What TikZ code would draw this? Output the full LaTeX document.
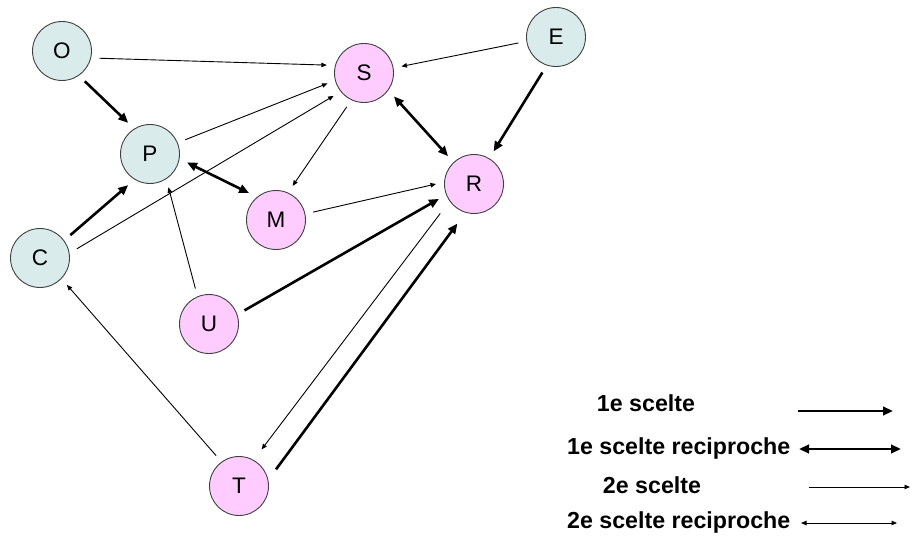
\documentclass[tikz,border=0pt]{standalone}
\usepackage{fontspec}
\setmainfont{Liberation Sans}
\usetikzlibrary{arrows.meta}
\definecolor{nblue}{RGB}{218,235,235}
\definecolor{npink}{RGB}{255,204,255}
\tikzset{
  pers/.style={circle,draw=black!75,line width=0.9pt,minimum size=59pt,inner sep=0pt,outer sep=8.5pt,font=\fontsize{22.5}{26}\selectfont},
  bl/.style={pers,fill=nblue},
  pk/.style={pers,fill=npink},
  first/.style={line width=2.6pt,-{Triangle[length=10pt,width=8.5pt]}},
  firstr/.style={line width=2.6pt,{Triangle[length=10pt,width=8.5pt]}-{Triangle[length=10pt,width=8.5pt]}},
  second/.style={line width=0.9pt,-{Triangle[length=5.5pt,width=4.5pt]}},
  secondr/.style={line width=0.9pt,{Triangle[length=5.5pt,width=4.5pt]}-{Triangle[length=5.5pt,width=4.5pt]}},
  leg/.style={font=\fontsize{23.2}{27}\selectfont\bfseries,inner sep=0pt}
}
\begin{document}
\begin{tikzpicture}[x=1pt,y=-1pt]
\useasboundingbox (0,0) rectangle (910,540);
\node[bl] (O) at (62,51) {O};
\node[bl] (P) at (150,154) {P};
\node[bl] (C) at (40,258) {C};
\node[pk] (M) at (276,220) {M};
\node[pk] (S) at (364,73) {S};
\node[bl] (E) at (556,37) {E};
\node[pk] (R) at (474,184) {R};
\node[pk] (U) at (209,324) {U};
\node[pk] (T) at (239,486) {T};

\draw[second] (O.-11) -- (S.168);
\draw[first] (O.-53) -- (P.125);
\draw[second] (P.22) -- (S.196);
\draw[second] (C.14) -- (S.217);
\draw[first] (C.37) -- (P.235);
\draw[firstr] (P.-13) -- (M.135);
\draw[second] (U.111) -- (P.-61);
\draw[second] (S.243) -- (M.64);
\draw[second] (M.12) -- (R.180);
\draw[first] (U.21) -- (R.203);
\draw[second] (E.189) -- (S.10);
\draw[first] (E.249) -- (R.59);
\draw[firstr] (S.-38) -- (R.133);
\draw[second] (T.127) -- (C.-45);
\draw[second,shorten <=7pt,shorten >=5pt] (R.219) -- (T.59);
\draw[first,shorten <=3pt,shorten >=5pt] (T.22) -- (R.249);

\node[leg] (l1) at (646,403) {1e scelte};
\node[leg,anchor=west] (l2) at (567,448) {1e scelte reciproche};
\node[leg] (l3) at (652,485) {2e scelte};
\node[leg,anchor=west] (l4) at (567,522) {2e scelte reciproche};

\coordinate (a1) at (798,411); \coordinate (b1) at (893,411);
\coordinate (a2) at (799,449); \coordinate (b2) at (901,449);
\coordinate (a3) at (809,487); \coordinate (b3) at (910,487);
\coordinate (a4) at (801,523); \coordinate (b4) at (897,523);
\draw[first] (a1) -- (b1);
\draw[firstr] (a2) -- (b2);
\draw[second] (a3) -- (b3);
\draw[secondr] (a4) -- (b4);
\end{tikzpicture}
\end{document}
